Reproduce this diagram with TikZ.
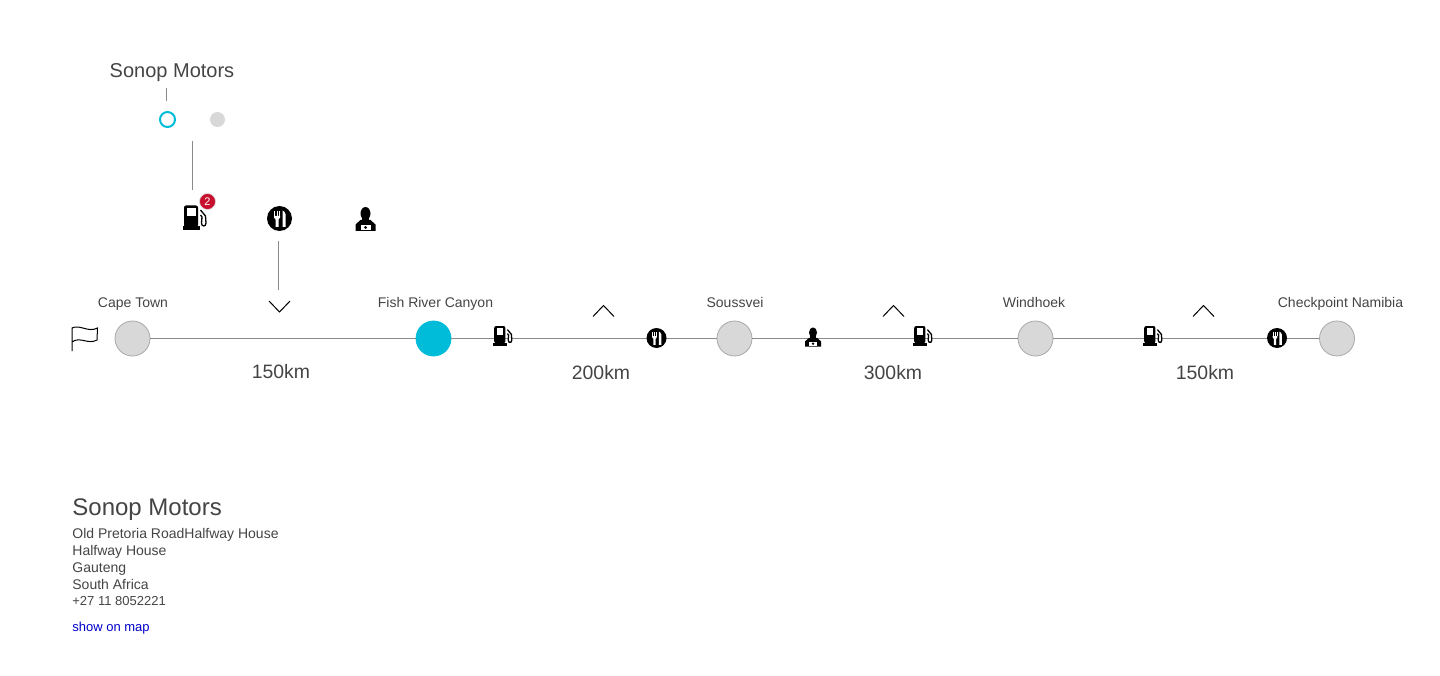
\documentclass[tikz,border=0pt]{standalone}
\usepackage{fontspec}
\setmainfont{Liberation Sans}
\usepackage{tikz}
\definecolor{stopgray}{HTML}{D8D8D8}
\definecolor{rimgray}{HTML}{A8A8A8}
\definecolor{linegray}{HTML}{8A8A8A}
\definecolor{textgray}{HTML}{444444}
\definecolor{stopcyan}{HTML}{00BCD8}
\definecolor{badgered}{HTML}{C8102E}
\definecolor{maplink}{HTML}{0000CC}
\tikzset{
	stop/.style={circle, draw=rimgray, fill=stopgray, inner sep=0pt, minimum size=35pt, line width=.8pt},
	current/.style={stop, draw=stopcyan, fill=stopcyan},
	place/.style={text=textgray, font=\fontsize{14}{14}\selectfont, inner sep=0pt, anchor=base},
	dist/.style={text=textgray, font=\fontsize{19.4}{19.4}\selectfont, inner sep=0pt, anchor=base},
	addr/.style={place, anchor=base west},
	chevron/.style={-, black, line width=1pt},
	gasicon/.pic={
		\fill[black, rounded corners=2pt] (-11,9) -- (-11,-12.5) -- (3,-12.5) -- (3,9) -- cycle;
		\fill[white] (-8,-9.5) rectangle (.5,-1.5);
		\fill[black] (-12,8.5) rectangle (5,12);
		\draw[black, line width=1.3pt, fill=white] (5.5,-8) -- (10.5,-2) -- (11,5) .. controls (11,9) and (6.5,9) .. (6.5,5) -- (7,-1) -- (5.5,-3);
	},
	forkicon/.pic={
		\fill[black] (0,0) circle (12.5);
		\draw[white, line width=1pt] (-5,-7) -- (-5,-2) (-2.5,-7) -- (-2.5,-2) (0,-7) -- (0,-2);
		\fill[white] (-5.5,-2.5) -- (.5,-2.5) -- (.5,-1) -- (-1,1) -- (-1,8.5) -- (-4,8.5) -- (-4,1) -- (-5.5,-1) -- cycle;
		\fill[white] (3,-8) .. controls (6.5,-7) and (6.5,-2) .. (6,1) -- (6,8.5) -- (3,8.5) -- cycle;
	},
	guideicon/.pic={
		\fill[black] (0,-5.5) ellipse (5 and 6.5);
		\fill[black] (-3.5,-1) rectangle (3.5,3);
		\fill[black] (-10,12) -- (-10,5.5) -- (-5,1) -- (5,1) -- (10,5.5) -- (10,12) -- cycle;
		\fill[white] (-5,6) rectangle (5,10.8);
		\fill[black] (0,8.4) circle (1.6);
	}
}
\begin{document}
\begin{tikzpicture}[x=1pt, y=-1pt, every path/.style={line width=.8pt}]
	\useasboundingbox (0,0) rectangle (1440,676);
	
	% stops
	\node[stop]		(cape) at (132.5,338.5) {};
	\node[current]	(fish) at (433.5,338.5) {};
	\node[stop]		(soussvei) at (734.5,338.5) {};
	\node[stop]		(windhoek) at (1035.5,338.5) {};
	\node[stop]		(checkpoint) at (1337,338.5) {};
	
	\path[draw=linegray, line width=1pt]
			(cape) edge (fish)
			(fish) edge (soussvei)
			(soussvei) edge (windhoek)
			(windhoek) edge (checkpoint);
	
	\node[place]	(capelabel) at (133,307.6) {Cape Town};
	\node[place]	(fishlabel) at (435.5,307.6) {Fish River Canyon};
	\node[place]	(soussveilabel) at (735,307.6) {Soussvei};
	\node[place]	(windhoeklabel) at (1034,307.6) {Windhoek};
	\node[place]	(checkpointlabel) at (1340.5,307.6) {Checkpoint Namibia};
	
	\node[dist]		(leg1) at (281,378) {150km};
	\node[dist]		(leg2) at (601,379) {200km};
	\node[dist]		(leg3) at (893,379) {300km};
	\node[dist]		(leg4) at (1205,379) {150km};
	
	% flag
	\draw[black, line width=1pt] (72,351) -- (72,328) .. controls (80,324) and (88,333) .. (97.5,328) -- (97,340) .. controls (88,345) and (80,336) .. (72,342);
	
	% icons on the line
	\pic[scale=.8] (gas2) at (503,336) {gasicon};
	\pic[scale=.8] (fork2) at (656.5,338) {forkicon};
	\pic[scale=.8] (guide2) at (813,337) {guideicon};
	\pic[scale=.8] (gas3) at (923,336) {gasicon};
	\pic[scale=.8] (gas4) at (1153,336) {gasicon};
	\pic[scale=.8] (fork4) at (1277,338) {forkicon};
	
	% chevrons
	\draw[chevron] (269,301) -- (279.5,312) -- (290,301);
	\draw[chevron] (593,316.5) -- (603.5,305.5) -- (614,316.5);
	\draw[chevron] (883,316.5) -- (893.5,305.5) -- (904,316.5);
	\draw[chevron] (1193,316.5) -- (1203.5,305.5) -- (1214,316.5);
	
	% selected stop
	\node[text=textgray, font=\fontsize{20}{20}\selectfont, inner sep=0pt, anchor=base] (title) at (172,77.6) {Sonop Motors};
	\node[circle, draw=stopcyan, fill=white, line width=2pt, inner sep=0pt, minimum size=15pt] (dotA) at (167.5,119.5) {};
	\node[circle, fill=stopgray, inner sep=0pt, minimum size=15pt] (dotB) at (217.5,119.5) {};
	
	\pic (gas1) at (195,218) {gasicon};
	\pic (fork1) at (279.5,218.5) {forkicon};
	\pic (guide1) at (365.5,219) {guideicon};
	\node[circle, fill=badgered, draw=stopgray, line width=.6pt, inner sep=0pt, minimum size=16pt, text=white, font=\fontsize{11}{11}\selectfont] (badge) at (207.5,201.5) {2};
	
	\coordinate (a1) at (166.5,88);
	\coordinate (a2) at (166.5,101);
	\coordinate (b1) at (192.5,141);
	\coordinate (b2) at (192.5,190);
	\coordinate (c1) at (278.5,241);
	\coordinate (c2) at (278.5,290);
	\path[draw=linegray, line width=1pt]
			(a1) edge (a2)
			(b1) edge (b2)
			(c1) edge (c2);
	
	% address
	\node[text=textgray, font=\fontsize{24}{24}\selectfont, inner sep=0pt, anchor=base west] (name) at (72,515) {Sonop Motors};
	\node[addr]		(line1) at (72,538) {Old Pretoria RoadHalfway House};
	\node[addr]		(line2) at (72,555) {Halfway House};
	\node[addr]		(line3) at (72,572) {Gauteng};
	\node[addr]		(line4) at (72,589) {South Africa};
	\node[addr, font=\fontsize{13}{13}\selectfont]	(phone) at (72,605) {+27 11 8052221};
	\node[addr, text=maplink, font=\fontsize{13}{13}\selectfont]	(map) at (72,631) {show on map};
\end{tikzpicture}
\end{document}
